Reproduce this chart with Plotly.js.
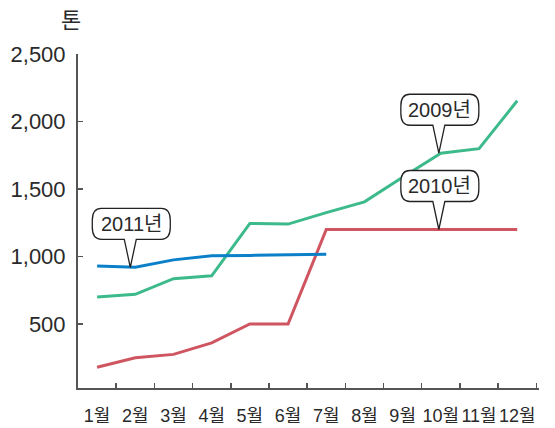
<!DOCTYPE html>
<html>
<head>
<meta charset="utf-8">
<script src="https://cdn.plot.ly/plotly-3.0.1.min.js"></script>
<style>
  html, body { margin: 0; padding: 0; background: #fff; }
  #chart { width: 555px; height: 428px; }
</style>
</head>
<body>
<div id="chart"></div>
<script>
// ---- data ----
const months = ['1월','2월','3월','4월','5월','6월','7월','8월','9월','10월','11월','12월'];
const series2009 = [700, 720, 836, 857, 1245, 1240, 1325, 1405, 1587, 1765, 1799, 2154];
const series2010 = [180, 250, 275, 360, 500, 500, 1200, 1200, 1200, 1200, 1200, 1200];
const series2011 = [930, 920, 975, 1005, 1008, 1012, 1017];
const yTicks = [500, 1000, 1500, 2000, 2500];
const yTickText = ['500', '1,000', '1,500', '2,000', '2,500'];
const unitLabel = '톤';
const callouts = [
  { text: '2011년', series: series2011, month: 2 },
  { text: '2009년', series: series2009, month: 10 },
  { text: '2010년', series: series2010, month: 10 }
];

// ---- drawing ----
const FONT = '"Liberation Sans Narrow", "Arial Narrow", "Liberation Sans", "Noto Sans CJK KR", sans-serif';
const xs = months.map((m, i) => i + 1);
const bounds = months.map((m, i) => i + 1.5);

const traces = [
  { x: xs, y: series2009, mode: 'lines', line: { color: '#3dba8b', width: 3 }, hoverinfo: 'skip' },
  { x: xs, y: series2010, mode: 'lines', line: { color: '#cf5560', width: 3 }, hoverinfo: 'skip' },
  { x: xs.slice(0, series2011.length), y: series2011, mode: 'lines', line: { color: '#0b80c9', width: 3 }, hoverinfo: 'skip' }
];

function calloutPath(dx, L, R, B, T, pa, pb) {
  const rx = 9, ry = 12;
  return [
    'M', dx + pa, B,
    'L', dx, 0,
    'L', dx + pb, B,
    'L', R - rx, B,
    'Q', R, B, R, B + ry,
    'L', R, T - ry,
    'Q', R, T, R - rx, T,
    'L', L + rx, T,
    'Q', L, T, L, T - ry,
    'L', L, B + ry,
    'Q', L, B, L + rx, B,
    'Z'
  ].join(' ');
}

const shapes = [];
const annotations = [];
callouts.forEach((c, k) => {
  const v = c.series[c.month - 1];
  const dx = k === 0 ? -5 : -2;
  const L = dx - 38, R = dx + 40, B = 28, T = 59;
  shapes.push({
    type: 'path', xref: 'x', yref: 'y',
    xsizemode: 'pixel', ysizemode: 'pixel',
    xanchor: c.month, yanchor: v,
    path: calloutPath(dx, L, R, B, T, -6, 6),
    line: { color: '#222', width: 1.3 },
    fillcolor: '#fff', layer: 'above'
  });
  annotations.push({
    x: c.month, y: v, xref: 'x', yref: 'y',
    text: c.text, showarrow: false,
    xshift: dx + 1, yshift: 43.5,
    font: { family: FONT, size: 20, color: '#2a2a2a' }
  });
});

annotations.push({
  x: -0.015, y: 1.1, xref: 'paper', yref: 'paper',
  xanchor: 'center', yanchor: 'middle',
  text: unitLabel, showarrow: false,
  font: { family: FONT, size: 22, color: '#2a2a2a' }
});

const layout = {
  width: 555, height: 428,
  margin: { l: 78, r: 16, t: 54, b: 40 },
  paper_bgcolor: '#fff', plot_bgcolor: '#fff',
  showlegend: false,
  xaxis: {
    range: [0.5, 12.57],
    tickmode: 'array', tickvals: xs, ticktext: months,
    tickangle: 0,
    ticks: '', showgrid: false, zeroline: false,
    showline: true, linecolor: '#555', linewidth: 2,
    ticklabelstandoff: 10,
    tickfont: { family: FONT, size: 18, color: '#2a2a2a' },
    minor: { tickmode: 'array', tickvals: bounds, ticks: 'inside', ticklen: 5, tickwidth: 1.5, tickcolor: '#555', showgrid: false }
  },
  yaxis: {
    range: [26, 2500],
    tickmode: 'array', tickvals: yTicks, ticktext: yTickText,
    ticks: 'inside', ticklen: 5, tickwidth: 1.5, tickcolor: '#555',
    showgrid: false, zeroline: false,
    showline: true, linecolor: '#555', linewidth: 2,
    ticklabelstandoff: 6,
    tickfont: { family: FONT, size: 22, color: '#2a2a2a' }
  },
  shapes: shapes,
  annotations: annotations
};

Plotly.newPlot('chart', traces, layout, { staticPlot: true, displayModeBar: false });
</script>
</body>
</html>
